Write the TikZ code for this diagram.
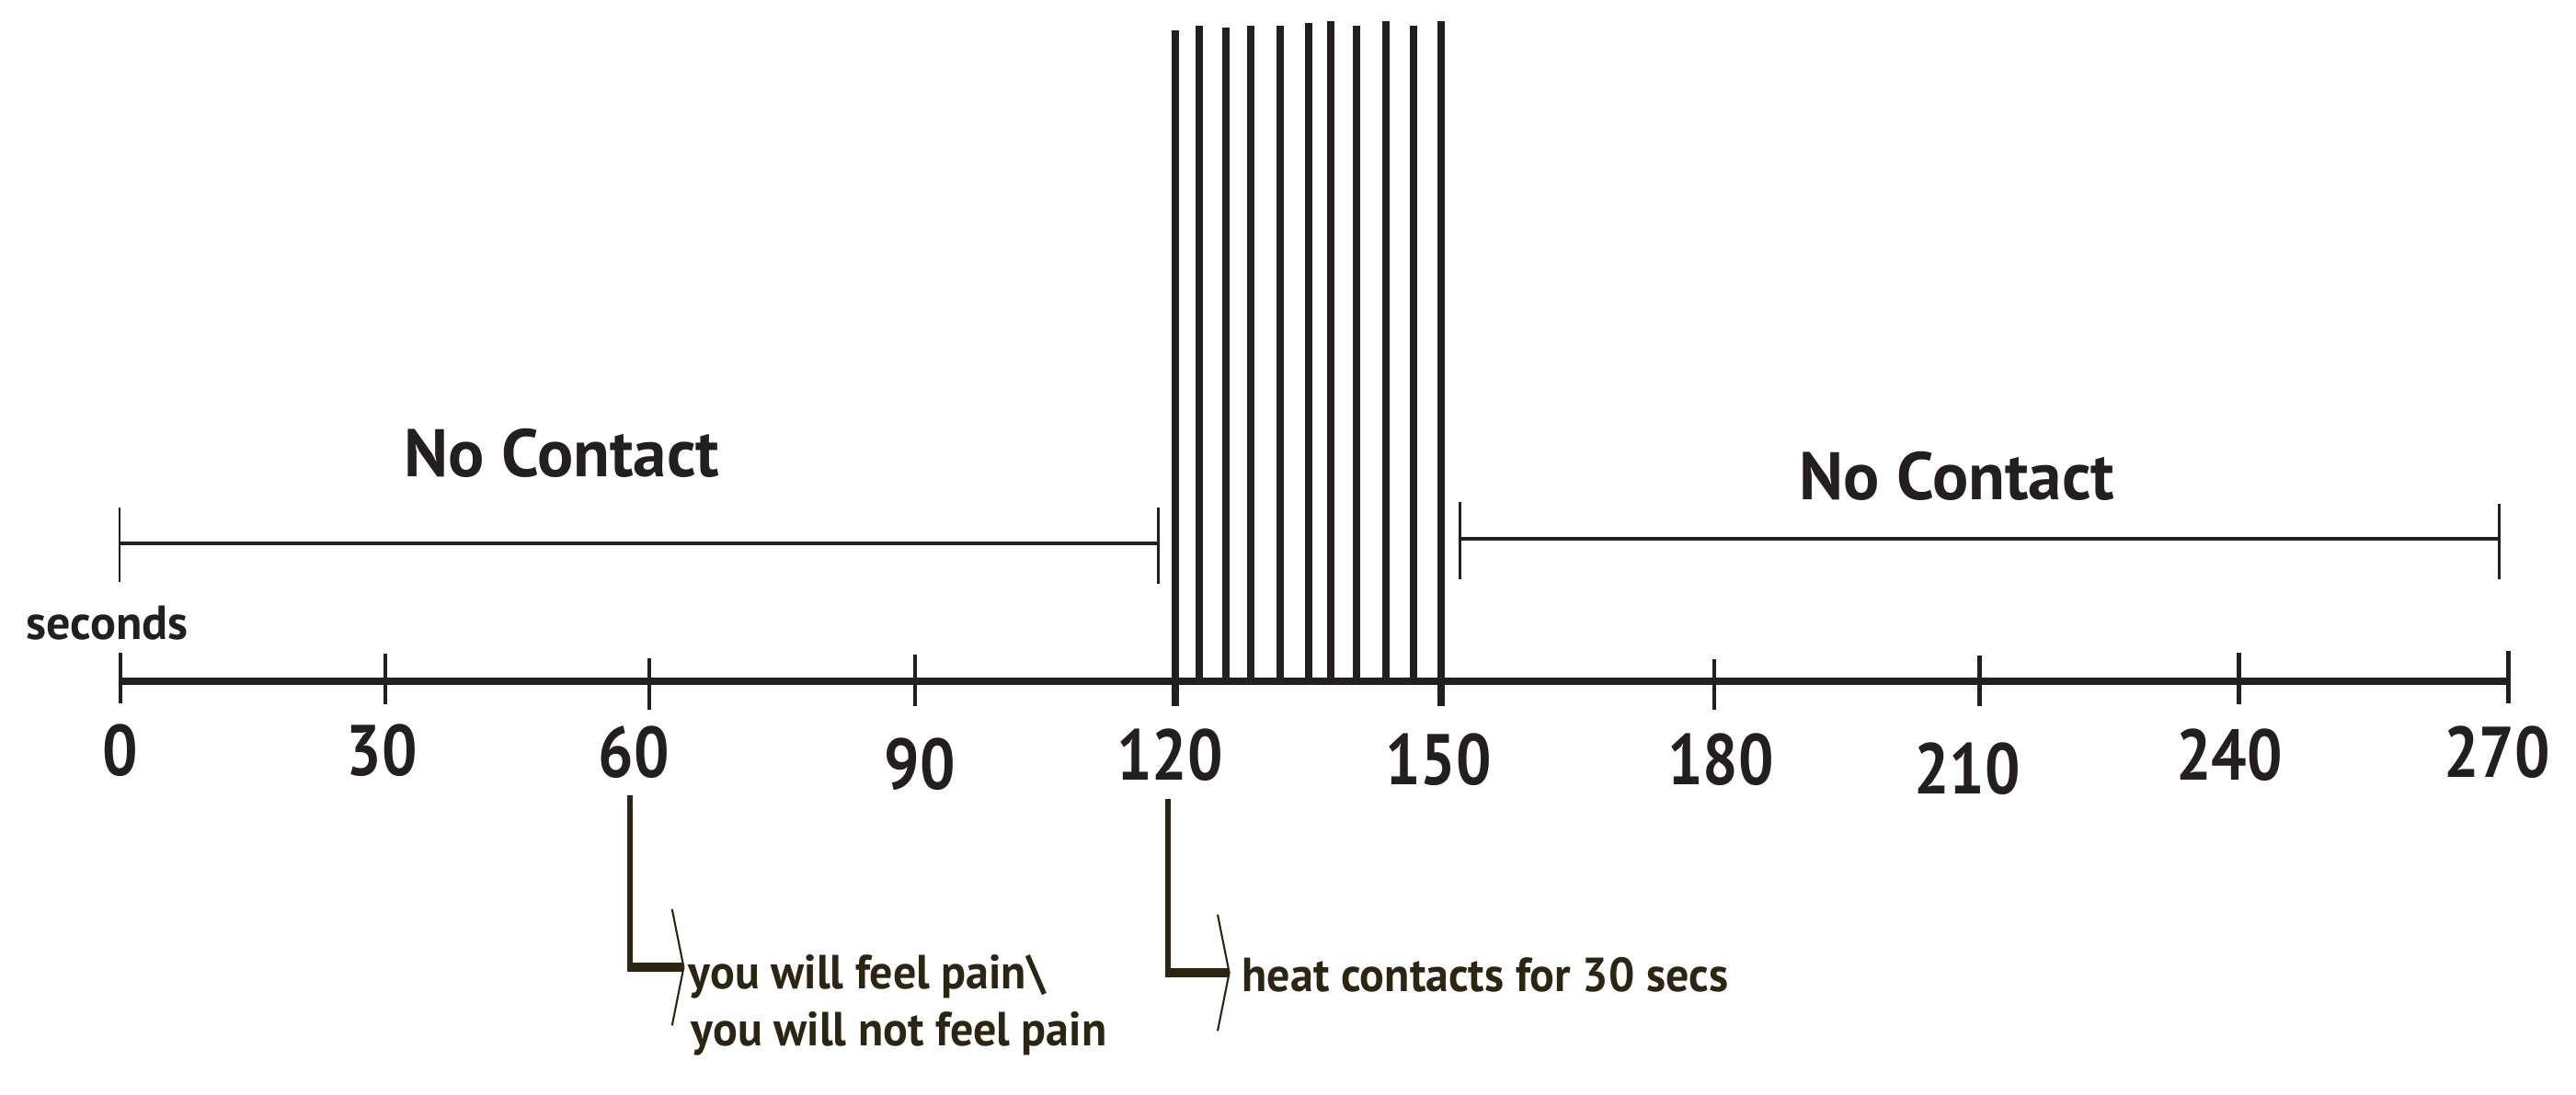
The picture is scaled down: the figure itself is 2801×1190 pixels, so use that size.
\documentclass[tikz,border=0pt]{standalone}
\usepackage{fontspec}
\setmainfont{PT Sans}
\newfontfamily\digitfont{PT Sans}[FakeStretch=0.87]
\newfontfamily\notefont{PT Sans}[FakeStretch=0.96]
\usetikzlibrary{arrows.meta}
\definecolor{ink}{HTML}{231F20}
\definecolor{olive}{HTML}{2B2512}
\begin{document}
\begin{tikzpicture}[x=0.01cm,y=-0.01cm,
  axisline/.style={draw=ink,line width=2.3pt},
  tickmark/.style={draw=ink,line width=1.4pt},
  barline/.style={draw=ink,line width=2.2pt},
  spanline/.style={draw=ink,line width=1.1pt},
  spancap/.style={draw=ink,line width=0.85pt},
  ticklabel/.style={font=\digitfont\bfseries\fontsize{22.2}{24}\selectfont,text=ink,anchor=base,inner sep=0pt},
  headlabel/.style={font=\bfseries\fontsize{20.8}{24}\selectfont,text=ink,anchor=base,inner sep=0pt},
  unitlabel/.style={font=\bfseries\fontsize{14.8}{17}\selectfont,text=ink,anchor=base west,inner sep=0pt},
  note/.style={font=\notefont\bfseries\fontsize{14.8}{17}\selectfont,text=olive,anchor=base west,inner sep=0pt},
  stem/.style={draw=olive,line width=1.7pt},
  pointer/.style={draw=olive,line width=2.7pt,-{Straight Barb[length=3.6pt,width=36pt,line width=0.6pt]}}
]
\useasboundingbox (0,0) rectangle (2801,1190);

% time axis
\draw[axisline] (131,741) -- (2727,741);
\draw[tickmark] (131,710) -- (131,765);
\draw[tickmark] (419,711) -- (419,766);
\draw[tickmark] (706,716) -- (706,772);
\draw[tickmark] (995,712) -- (995,768);
\draw[tickmark] (1864,717) -- (1864,772);
\draw[tickmark] (2152,713) -- (2152,768);
\draw[tickmark] (2434,710) -- (2434,766);
\draw[tickmark] (2727,708) -- (2727,765);

% heat contact bars
\draw[barline] (1278,33) -- (1278,768);
\draw[barline] (1304,28) -- (1304,741);
\draw[barline] (1333,30) -- (1333,741);
\draw[barline] (1360,28) -- (1360,741);
\draw[barline] (1392,28) -- (1392,741);
\draw[barline] (1423,25) -- (1423,741);
\draw[barline] (1447,23) -- (1447,741);
\draw[barline] (1475,28) -- (1475,741);
\draw[barline] (1507,23) -- (1507,741);
\draw[barline] (1537,28) -- (1537,741);
\draw[barline] (1567,23) -- (1567,768);

% no-contact spans
\draw[spanline] (130,591) -- (1259,591);
\draw[spancap] (130,552) -- (130,633);
\draw[spancap] (1259,552) -- (1259,635);
\draw[spanline] (1587,586) -- (2717,586);
\draw[spancap] (1587,546) -- (1587,630);
\draw[spancap] (2717,548) -- (2717,630);

\node[headlabel] (nc1) at (611,518) {No Contact};
\node[headlabel] (nc2) at (2128,543) {No Contact};
\node[unitlabel] (sec) at (28,695) {seconds};

% tick labels
\node[ticklabel] (l0) at (131,843) {0};
\node[ticklabel] (l30) at (415,843) {30};
\node[ticklabel] (l60) at (689,845) {60};
\node[ticklabel] (l90) at (1000,858) {90};
\node[ticklabel] (l120) at (1272,848) {120};
\node[ticklabel] (l150) at (1564,853) {150};
\node[ticklabel] (l180) at (1871,853) {180};
\node[ticklabel] (l210) at (2139,863) {210};
\node[ticklabel] (l240) at (2424,848) {240};
\node[ticklabel] (l270) at (2715,845) {270};

% annotations
\node[note] (t1a) at (748,1075) {you will feel pain\textbackslash};
\node[note] (t1b) at (751,1137) {you will not feel pain};
\node[note] (t2) at (1350,1078) {heat contacts for 30 secs};

\coordinate (c1) at (685,1052);
\coordinate (c2) at (1270,1058);
\draw[stem] (l60.south -| c1) ++(0,18) -- (c1);
\draw[pointer] ([xshift=-0.8pt]c1) -- ([xshift=-1pt]c1 -| t1a.west);
\draw[stem] (l120.south -| c2) ++(0,19) -- (c2);
\draw[pointer] ([xshift=-0.8pt]c2) -- ([xshift=-3.5pt]c2 -| t2.west);
\end{tikzpicture}
\end{document}
